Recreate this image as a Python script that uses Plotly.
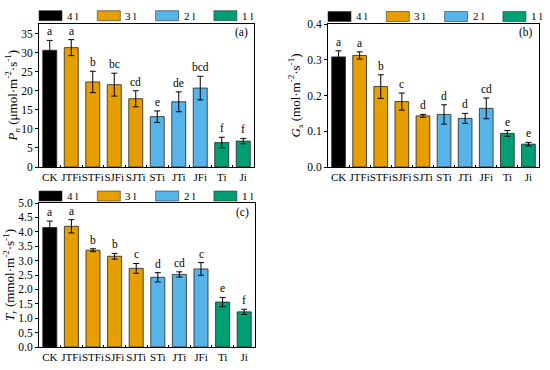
import plotly.graph_objects as go

W, H = 550, 370

categories = ["CK", "JTFi", "STFi", "SJFi", "SJTi", "STi", "JTi", "JFi", "Ti", "Ji"]
bar_group = ["4 l", "3 l", "3 l", "3 l", "3 l", "2 l", "2 l", "2 l", "1 l", "1 l"]
group_labels = ["4 l", "3 l", "2 l", "1 l"]
group_colors = {"4 l": "#000000", "3 l": "#E69F00", "2 l": "#56B4E9", "1 l": "#009E73"}

pn_mean = [30.6, 31.3, 22.3, 21.6, 17.9, 13.2, 17.1, 20.7, 6.4, 6.8]
pn_err = [2.6, 2.1, 2.8, 3.0, 2.1, 1.5, 2.6, 3.1, 1.4, 0.7]
pn_letters = ["a", "a", "b", "bc", "cd", "e", "de", "bcd", "f", "f"]

gs_mean = [0.308, 0.312, 0.225, 0.183, 0.143, 0.147, 0.136, 0.164, 0.094, 0.064]
gs_err = [0.017, 0.010, 0.033, 0.024, 0.004, 0.027, 0.014, 0.029, 0.008, 0.005]
gs_letters = ["a", "a", "b", "c", "d", "d", "d", "cd", "e", "e"]

tr_mean = [4.15, 4.19, 3.36, 3.15, 2.73, 2.42, 2.52, 2.71, 1.56, 1.22]
tr_err = [0.22, 0.23, 0.05, 0.10, 0.17, 0.16, 0.09, 0.22, 0.16, 0.09]
tr_letters = ["a", "a", "b", "b", "c", "d", "cd", "c", "e", "f"]

FONT = "Liberation Serif, Times New Roman, serif"

# panel layout in pixels: (left, right, top, bottom)
panels = [
    dict(key="", data=(pn_mean, pn_err, pn_letters), box=(39, 254, 24, 167),
         yrange=[0, 37.5], dtick=5, fmt="d", tag="(a)",
         title="<i>P</i><sub><i>n</i></sub> (μmol·m<sup>-2</sup>·s<sup>-1</sup>)", title_x=13,
         leg=(39, 15.7)),
    dict(key="2", data=(gs_mean, gs_err, gs_letters), box=(328, 539, 24, 167),
         yrange=[0, 0.4], dtick=0.1, fmt=".1f", tag="(b)",
         title="<i>G</i><sub><i>s</i></sub> (mol·m<sup>-2</sup>·s<sup>-1</sup>)", title_x=296,
         leg=(328, 16.5)),
    dict(key="3", data=(tr_mean, tr_err, tr_letters), box=(39, 255, 203, 347),
         yrange=[0, 5.0], dtick=0.5, fmt=".1f", tag="(c)",
         title="<i>T</i><sub><i>r</i></sub> (mmol·m<sup>-2</sup>·s<sup>-1</sup>)", title_x=10,
         leg=(39, 196)),
]

fig = go.Figure()
annotations = []
shapes = []

def px_x(x):
    return x / W

def px_y(y):
    return 1 - y / H

for p in panels:
    k = p["key"]
    mean, err, letters = p["data"]
    colors = [group_colors[g] for g in bar_group]
    fig.add_trace(go.Bar(
        x=categories, y=mean,
        marker=dict(color=colors, line=dict(color="#222222", width=0.8)),
        error_y=dict(type="data", array=err, visible=True, color="#000000",
                     thickness=1, width=3),
        xaxis="x" + k, yaxis="y" + k, showlegend=False,
    ))
    l, r, t, b = p["box"]
    xa = dict(domain=[px_x(l), px_x(r)], anchor="y" + k, range=[-0.5, 9.5],
              showline=True, linecolor="black", linewidth=1, mirror=True,
              ticks="inside", ticklen=2, tickcolor="black", tickson="boundaries",
              tickangle=0, automargin=False,
              showgrid=False, tickfont=dict(family=FONT, size=11, color="black"),
              fixedrange=True)
    ya = dict(domain=[px_y(b), px_y(t)], anchor="x" + k, range=p["yrange"],
              dtick=p["dtick"], tick0=0, tickformat=p["fmt"], automargin=False,
              showline=True, linecolor="black", linewidth=1, mirror=True,
              ticks="outside", ticklen=3, tickcolor="black",
              showgrid=False, zeroline=False,
              tickfont=dict(family=FONT, size=11.5, color="black"))
    fig.update_layout(**{"xaxis" + k: xa, "yaxis" + k: ya})

    # significance letters
    for c, m, e, s in zip(categories, mean, err, letters):
        annotations.append(dict(x=c, y=m + e, xref="x" + k, yref="y" + k,
                                text=s, showarrow=False, yanchor="bottom",
                                yshift=1, font=dict(family=FONT, size=11.5, color="black")))
    # panel tag
    annotations.append(dict(x=px_x(r - 4), y=px_y(t + 9), xref="paper", yref="paper",
                            text=p["tag"], showarrow=False, xanchor="right",
                            yanchor="middle", font=dict(family=FONT, size=11.5, color="black")))
    # y title
    annotations.append(dict(x=px_x(p["title_x"]), y=px_y((t + b) / 2), xref="paper",
                            yref="paper", text=p["title"], showarrow=False,
                            textangle=-90, xanchor="center", yanchor="middle",
                            font=dict(family=FONT, size=13, color="black")))
    # legend (swatches + labels)
    lx, ly = p["leg"]
    for i, g in enumerate(group_labels):
        x0 = lx + i * 58.3
        shapes.append(dict(type="rect", xref="paper", yref="paper",
                           x0=px_x(x0), x1=px_x(x0 + 23), y0=px_y(ly + 5), y1=px_y(ly - 5),
                           fillcolor=group_colors[g], line=dict(color="#333333", width=0.6)))
        annotations.append(dict(x=px_x(x0 + 26), y=px_y(ly), xref="paper", yref="paper",
                                text=g, showarrow=False, xanchor="left", yanchor="middle",
                                font=dict(family=FONT, size=11, color="black")))

fig.update_layout(
    width=W, height=H,
    margin=dict(l=0, r=0, t=0, b=0, pad=0),
    paper_bgcolor="white", plot_bgcolor="white",
    bargap=0.35,
    annotations=annotations, shapes=shapes,
    font=dict(family=FONT, size=11, color="black"),
)

fig.write_html("out.html", config={"displayModeBar": False},
               post_script="document.body.style.margin='0px';document.body.style.padding='0px';")
